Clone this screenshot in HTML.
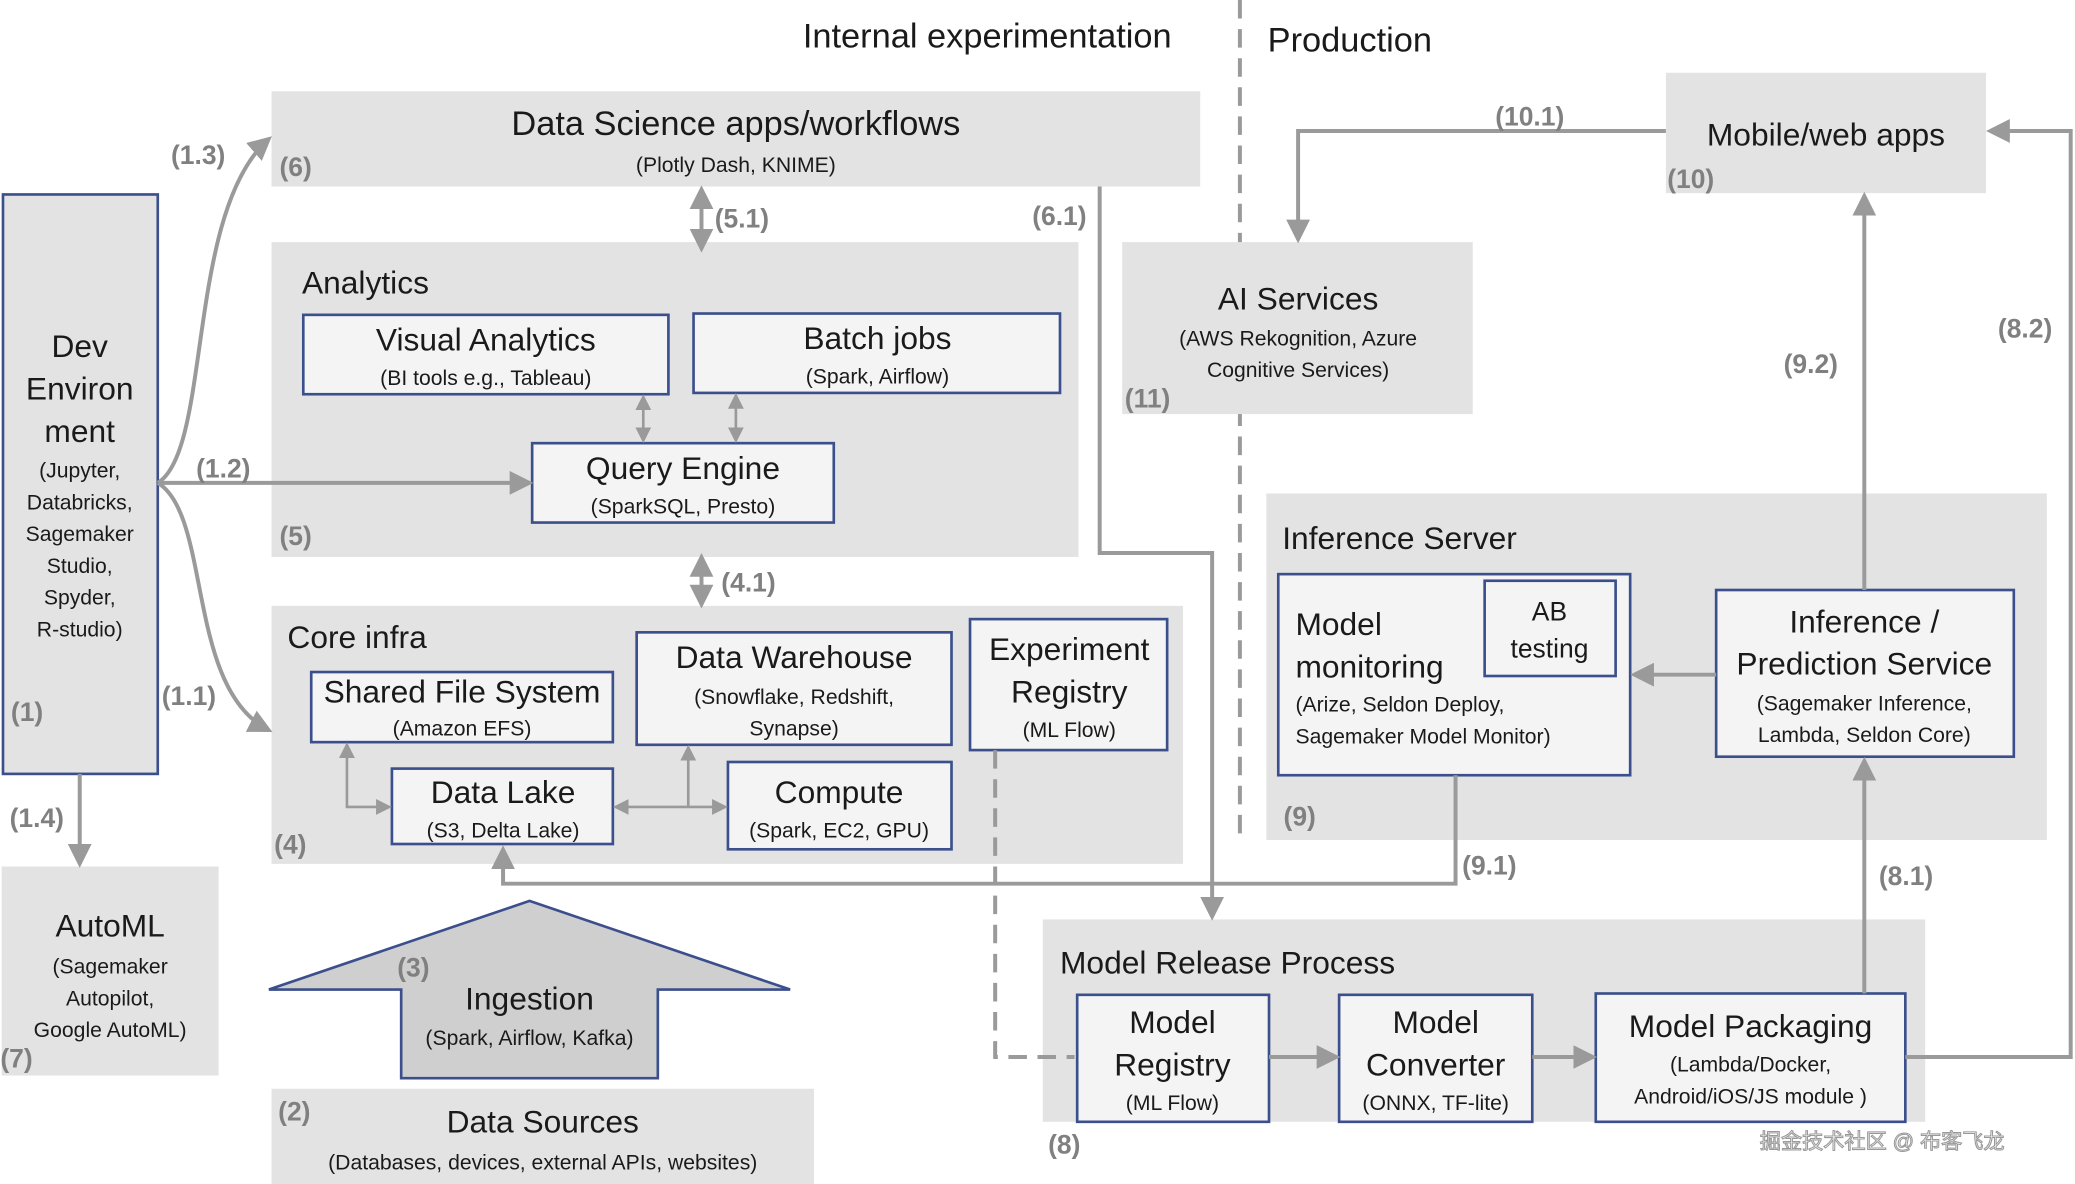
<!DOCTYPE html>
<html><head><meta charset="utf-8"><style>
html,body{margin:0;padding:0;background:#fff}
svg{display:block}
text{font-family:"Liberation Sans","Noto Sans CJK SC",sans-serif;fill:#1a1a1a}
.t{font-size:24px}.s{font-size:16px}.l{font-size:20px;font-weight:bold;fill:#808080}
.g{fill:#e3e3e3}
.n{fill:#f4f4f5;stroke:#3b4f8c;stroke-width:2}
.a{stroke:#9a9a9a;stroke-width:3;fill:none}
.a2{stroke:#9a9a9a;stroke-width:2;fill:none}
</style></head><body>
<svg width="2075" height="1184" viewBox="0 0 1568 895" xmlns="http://www.w3.org/2000/svg">
<defs>
<marker id="m" markerWidth="6" markerHeight="6" refX="5" refY="3" orient="auto" markerUnits="strokeWidth"><path d="M0,0 L6,3 L0,6 z" fill="#9a9a9a"/></marker>
<marker id="ms" markerWidth="6" markerHeight="6" refX="1" refY="3" orient="auto" markerUnits="strokeWidth"><path d="M6,0 L0,3 L6,6 z" fill="#9a9a9a"/></marker>
</defs>
<text x="746" y="36" class="t" text-anchor="middle" style="font-size:26px">Internal experimentation</text>
<text x="958" y="39" class="t" style="font-size:26px">Production</text>
<line x1="937" y1="0" x2="937" y2="635" stroke="#9a9a9a" stroke-width="3" stroke-dasharray="14,8"/>

<!-- groups -->
<rect x="205" y="69" width="702" height="72" class="g"/>
<rect x="205" y="183" width="610" height="238" class="g"/>
<rect x="205" y="458" width="689" height="195" class="g"/>
<rect x="848" y="183" width="265" height="130" class="g"/>
<rect x="1259" y="55" width="242" height="91" class="g"/>
<rect x="957" y="373" width="590" height="262" class="g"/>
<rect x="788" y="695" width="667" height="153" class="g"/>
<rect x="1" y="655" width="164" height="158" class="g"/>
<rect x="205" y="823" width="410" height="72" class="g"/>
<rect x="2" y="147" width="117" height="438" fill="#e3e3e3" stroke="#3b4f8c" stroke-width="2"/>

<!-- titles -->
<text x="556" y="102" class="t" text-anchor="middle" style="font-size:26px">Data Science apps/workflows</text>
<text x="556" y="130" class="s" text-anchor="middle">(Plotly Dash, KNIME)</text>
<text x="211" y="133" class="l">(6)</text>
<text x="228" y="222" class="t">Analytics</text>
<text x="211" y="412" class="l">(5)</text>
<text x="217" y="490" class="t">Core infra</text>
<text x="207" y="645" class="l">(4)</text>
<text x="981" y="234" class="t" text-anchor="middle">AI Services</text>
<text x="981" y="261" class="s" text-anchor="middle">(AWS Rekognition, Azure</text>
<text x="981" y="285" class="s" text-anchor="middle">Cognitive Services)</text>
<text x="850" y="308" class="l">(11)</text>
<text x="1380" y="110" class="t" text-anchor="middle">Mobile/web apps</text>
<text x="1260" y="142" class="l">(10)</text>
<text x="969" y="415" class="t">Inference Server</text>
<text x="970" y="624" class="l">(9)</text>
<text x="801" y="736" class="t">Model Release Process</text>
<text x="792" y="872" class="l">(8)</text>
<text x="83" y="708" class="t" text-anchor="middle">AutoML</text>
<text x="83" y="736" class="s" text-anchor="middle">(Sagemaker</text>
<text x="83" y="760" class="s" text-anchor="middle">Autopilot,</text>
<text x="83" y="784" class="s" text-anchor="middle">Google AutoML)</text>
<text x="0" y="807" class="l">(7)</text>
<text x="410" y="856" class="t" text-anchor="middle">Data Sources</text>
<text x="410" y="884" class="s" text-anchor="middle">(Databases, devices, external APIs, websites)</text>
<text x="210" y="847" class="l">(2)</text>
<g text-anchor="middle">
<text x="60" y="270" class="t">Dev</text>
<text x="60" y="302" class="t">Environ</text>
<text x="60" y="334" class="t">ment</text>
<text x="60" y="361" class="s">(Jupyter,</text>
<text x="60" y="385" class="s">Databricks,</text>
<text x="60" y="409" class="s">Sagemaker</text>
<text x="60" y="433" class="s">Studio,</text>
<text x="60" y="457" class="s">Spyder,</text>
<text x="60" y="481" class="s">R-studio)</text>
</g>
<text x="8" y="545" class="l">(1)</text>

<!-- nodes -->
<rect x="229" y="238" width="276" height="60" class="n"/>
<text x="367" y="265" class="t" text-anchor="middle">Visual Analytics</text>
<text x="367" y="291" class="s" text-anchor="middle">(BI tools e.g., Tableau)</text>
<rect x="524" y="237" width="277" height="60" class="n"/>
<text x="663" y="264" class="t" text-anchor="middle">Batch jobs</text>
<text x="663" y="290" class="s" text-anchor="middle">(Spark, Airflow)</text>
<rect x="402" y="335" width="228" height="60" class="n"/>
<text x="516" y="362" class="t" text-anchor="middle">Query Engine</text>
<text x="516" y="388" class="s" text-anchor="middle">(SparkSQL, Presto)</text>
<rect x="235" y="508" width="228" height="53" class="n"/>
<text x="349" y="531" class="t" text-anchor="middle">Shared File System</text>
<text x="349" y="556" class="s" text-anchor="middle">(Amazon EFS)</text>
<rect x="481" y="478" width="238" height="85" class="n"/>
<text x="600" y="505" class="t" text-anchor="middle">Data Warehouse</text>
<text x="600" y="532" class="s" text-anchor="middle">(Snowflake, Redshift,</text>
<text x="600" y="556" class="s" text-anchor="middle">Synapse)</text>
<rect x="733" y="468" width="149" height="99" class="n"/>
<text x="808" y="499" class="t" text-anchor="middle">Experiment</text>
<text x="808" y="531" class="t" text-anchor="middle">Registry</text>
<text x="808" y="557" class="s" text-anchor="middle">(ML Flow)</text>
<rect x="296" y="581" width="167" height="57" class="n"/>
<text x="380" y="607" class="t" text-anchor="middle">Data Lake</text>
<text x="380" y="633" class="s" text-anchor="middle">(S3, Delta Lake)</text>
<rect x="550" y="576" width="169" height="66" class="n"/>
<text x="634" y="607" class="t" text-anchor="middle">Compute</text>
<text x="634" y="633" class="s" text-anchor="middle">(Spark, EC2, GPU)</text>
<rect x="966" y="434" width="266" height="152" class="n"/>
<text x="979" y="480" class="t">Model</text>
<text x="979" y="512" class="t">monitoring</text>
<text x="979" y="538" class="s">(Arize, Seldon Deploy,</text>
<text x="979" y="562" class="s">Sagemaker Model Monitor)</text>
<rect x="1122" y="439" width="99" height="72" class="n"/>
<text x="1171" y="469" class="s" text-anchor="middle" style="font-size:20px">AB</text>
<text x="1171" y="497" class="s" text-anchor="middle" style="font-size:20px">testing</text>
<rect x="1297" y="446" width="225" height="126" class="n"/>
<text x="1409" y="478" class="t" text-anchor="middle">Inference /</text>
<text x="1409" y="510" class="t" text-anchor="middle">Prediction Service</text>
<text x="1409" y="537" class="s" text-anchor="middle">(Sagemaker Inference,</text>
<text x="1409" y="561" class="s" text-anchor="middle">Lambda, Seldon Core)</text>
<rect x="814" y="752" width="145" height="96" class="n"/>
<text x="886" y="781" class="t" text-anchor="middle">Model</text>
<text x="886" y="813" class="t" text-anchor="middle">Registry</text>
<text x="886" y="839" class="s" text-anchor="middle">(ML Flow)</text>
<rect x="1012" y="752" width="146" height="96" class="n"/>
<text x="1085" y="781" class="t" text-anchor="middle">Model</text>
<text x="1085" y="813" class="t" text-anchor="middle">Converter</text>
<text x="1085" y="839" class="s" text-anchor="middle">(ONNX, TF-lite)</text>
<rect x="1206" y="751" width="234" height="97" class="n"/>
<text x="1323" y="784" class="t" text-anchor="middle">Model  Packaging</text>
<text x="1323" y="810" class="s" text-anchor="middle">(Lambda/Docker,</text>
<text x="1323" y="834" class="s" text-anchor="middle">Android/iOS/JS module )</text>

<!-- ingestion -->
<polygon points="203,748 400,681 597,748 497,748 497,815 303,815 303,748" fill="#cfcfcf" stroke="#3b4f8c" stroke-width="2"/>
<text x="400" y="763" class="t" text-anchor="middle">Ingestion</text>
<text x="400" y="790" class="s" text-anchor="middle">(Spark, Airflow, Kafka)</text>
<text x="300" y="738" class="l">(3)</text>

<!-- connectors -->
<path d="M119,365 C160,340 140,160 203,105" class="a" marker-end="url(#m)"/>
<line x1="119" y1="365" x2="400" y2="365" class="a" marker-end="url(#m)"/>
<path d="M119,365 C160,390 140,520 203,552" class="a" marker-end="url(#m)"/>
<line x1="60" y1="585" x2="60" y2="653" class="a" marker-end="url(#m)"/>
<text x="129" y="124" class="l">(1.3)</text>
<text x="148" y="361" class="l">(1.2)</text>
<text x="122" y="533" class="l">(1.1)</text>
<text x="7" y="625" class="l">(1.4)</text>
<line x1="530" y1="143" x2="530" y2="188" class="a" marker-end="url(#m)" marker-start="url(#ms)"/>
<text x="540" y="172" class="l">(5.1)</text>
<line x1="530" y1="421" x2="530" y2="457" class="a" marker-end="url(#m)" marker-start="url(#ms)"/>
<text x="545" y="447" class="l">(4.1)</text>
<line x1="486" y1="300" x2="486" y2="333" class="a2" marker-end="url(#m)" marker-start="url(#ms)"/>
<line x1="556" y1="299" x2="556" y2="333" class="a2" marker-end="url(#m)" marker-start="url(#ms)"/>
<polyline points="262,563 262,610 294,610" class="a2" marker-end="url(#m)" marker-start="url(#ms)"/>
<line x1="465" y1="610" x2="548" y2="610" class="a2" marker-end="url(#m)" marker-start="url(#ms)"/>
<polyline points="520,610 520,565" class="a2" marker-end="url(#m)"/>
<polyline points="1259,99 981,99 981,181" class="a" marker-end="url(#m)"/>
<text x="1130" y="95" class="l">(10.1)</text>
<polyline points="1440,799 1565,799 1565,99 1504,99" class="a" marker-end="url(#m)"/>
<text x="1510" y="255" class="l">(8.2)</text>
<line x1="1409" y1="446" x2="1409" y2="148" class="a" marker-end="url(#m)"/>
<text x="1348" y="282" class="l">(9.2)</text>
<line x1="1297" y1="510" x2="1235" y2="510" class="a" marker-end="url(#m)"/>
<polyline points="1100,586 1100,668 380,668 380,642" class="a" marker-end="url(#m)"/>
<text x="1105" y="661" class="l">(9.1)</text>
<polyline points="831,141 831,418 916,418 916,693" class="a" marker-end="url(#m)"/>
<text x="780" y="170" class="l">(6.1)</text>
<line x1="1409" y1="751" x2="1409" y2="575" class="a" marker-end="url(#m)"/>
<text x="1420" y="669" class="l">(8.1)</text>
<line x1="959" y1="799" x2="1010" y2="799" class="a" marker-end="url(#m)"/>
<line x1="1158" y1="799" x2="1204" y2="799" class="a" marker-end="url(#m)"/>
<polyline points="752,567 752,799 812,799" stroke="#9a9a9a" stroke-width="3" fill="none" stroke-dasharray="14,8"/>
<text x="1330" y="868" style="font-size:16px;fill:#fff;stroke:#999;stroke-width:0.8">掘金技术社区 @ 布客飞龙</text>
</svg>
</body></html>
